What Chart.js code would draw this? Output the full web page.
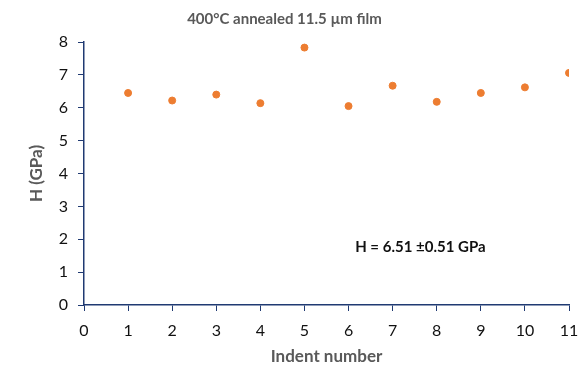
<!DOCTYPE html>
<html>
<head>
<meta charset="utf-8">
<script src="https://cdn.jsdelivr.net/npm/chart.js@4"></script>
<style>
  html, body { margin: 0; padding: 0; background: #fff; }
  #wrap { width: 581px; height: 371px; }
</style>
</head>
<body>
<div id="wrap"><canvas id="chart" width="581" height="371"></canvas></div>
<script>
// indent number vs hardness
const indents = [1, 2, 3, 4, 5, 6, 7, 8, 9, 10, 11];
const hardness = [6.45, 6.22, 6.40, 6.14, 7.83, 6.05, 6.67, 6.18, 6.45, 6.62, 7.06];
const xTicks = [0, 1, 2, 3, 4, 5, 6, 7, 8, 9, 10, 11];
const yTicks = [0, 1, 2, 3, 4, 5, 6, 7, 8];
const note = 'H = 6.51 \u00b10.51 GPa';

const axisColor = '#203a72';
const font = 'Lato, "Liberation Sans", sans-serif';

// draws the mean value note inside the plot, placed by data coords
const notePlugin = {
    id: 'note',
    afterDatasetsDraw(chart) {
        const ctx = chart.ctx;
        const x = chart.scales.x.getPixelForValue(6.15);
        const y = chart.scales.y.getPixelForValue(1.76);
        ctx.save();
        ctx.font = 'bold 15px ' + font;
        ctx.fillStyle = '#111';
        ctx.textAlign = 'left';
        ctx.textBaseline = 'middle';
        ctx.fillText(note, x, y);
        ctx.restore();
    }
};

new Chart(document.getElementById('chart'), {
    type: 'scatter',
    data: {
        datasets: [{
            data: indents.map((n, i) => ({ x: n, y: hardness[i] })),
            backgroundColor: '#ED7D31',
            borderColor: '#ED7D31',
            pointRadius: 3.5,
            pointHoverRadius: 3.5
        }]
    },
    options: {
        responsive: false,
        animation: false,
        layout: { padding: { top: 2, right: 12, left: 0, bottom: 0 } },
        plugins: {
            legend: { display: false },
            tooltip: { enabled: false },
            title: {
                display: true,
                text: '400\u00b0C annealed 11.5 \u00b5m film',
                color: '#595959',
                font: { family: font, size: 15, weight: 'bold' },
                padding: { top: 8, bottom: 14 }
            }
        },
        scales: {
            x: {
                type: 'linear',
                min: 0,
                max: 11,
                afterBuildTicks(scale) { scale.ticks = xTicks.map(v => ({ value: v })); },
                afterFit(scale) {
                    scale.height = 66;
                    scale.paddingLeft = 0;
                    scale.paddingRight = 0;
                },
                ticks: { color: '#111', font: { family: font, size: 16 }, padding: 10 },
                grid: { drawOnChartArea: false, drawTicks: true, tickLength: 6, color: axisColor },
                border: { color: axisColor, width: 1.5 },
                title: {
                    display: true,
                    text: 'Indent number',
                    color: '#595959',
                    font: { family: font, size: 17, weight: 'bold' },
                    padding: { top: 0, bottom: 4 }
                }
            },
            y: {
                min: 0,
                max: 8,
                afterBuildTicks(scale) { scale.ticks = yTicks.map(v => ({ value: v })); },
                afterFit(scale) { scale.width = 84; },
                ticks: { color: '#111', font: { family: font, size: 16 }, padding: 10 },
                grid: { drawOnChartArea: false, drawTicks: true, tickLength: 6, color: axisColor },
                border: { color: axisColor, width: 1.5 },
                title: {
                    display: true,
                    text: 'H (GPa)',
                    color: '#595959',
                    font: { family: font, size: 17, weight: 'bold' },
                    padding: { top: 26, bottom: 0 }
                }
            }
        }
    },
    plugins: [notePlugin]
});
</script>
</body>
</html>
